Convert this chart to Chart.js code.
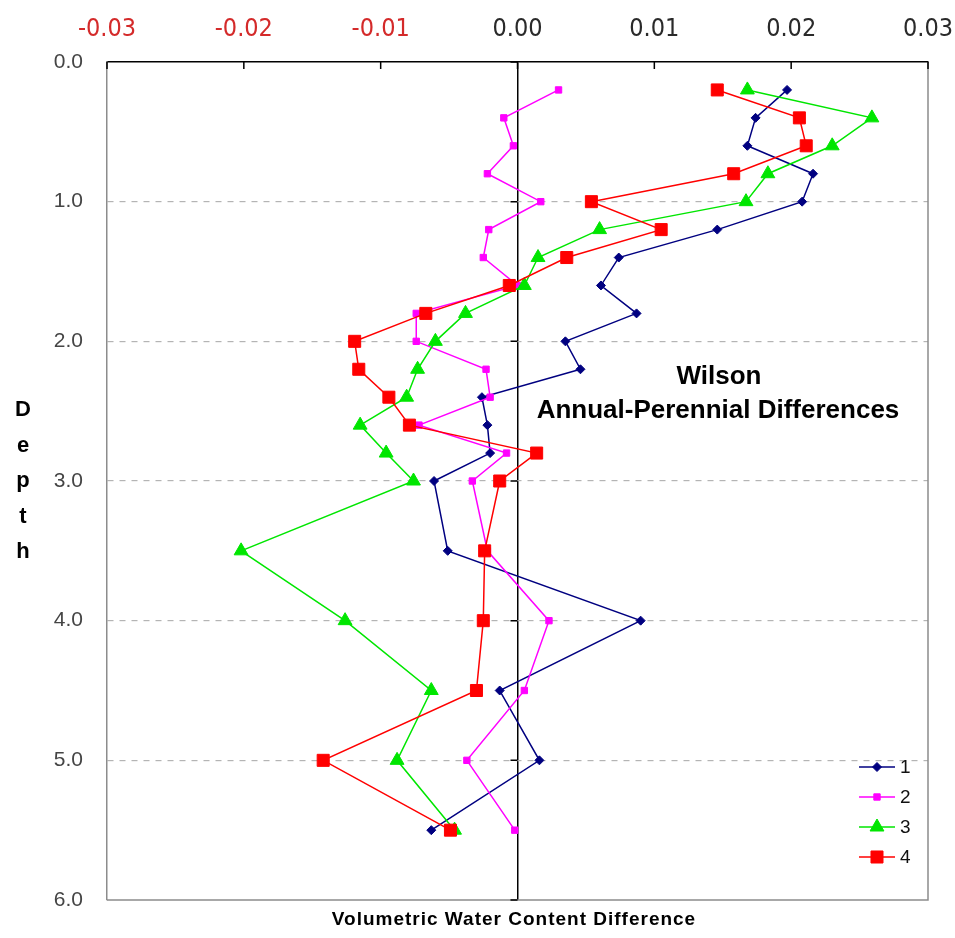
<!DOCTYPE html>
<html>
<head>
<meta charset="utf-8">
<script src="https://cdn.jsdelivr.net/npm/chart.js@4.4.0/dist/chart.umd.min.js"></script>
<style>
  html, body { margin: 0; padding: 0; background: #ffffff; }
  canvas { display: block; }
</style>
</head>
<body>
<canvas id="chart" width="955" height="938"></canvas>
<script>
// Depth of each measurement
const depths = [0.2, 0.4, 0.6, 0.8, 1.0, 1.2, 1.4, 1.6, 1.8, 2.0, 2.2, 2.4, 2.6, 2.8, 3.0, 3.5, 4.0, 4.5, 5.0, 5.5];

// Volumetric water content difference (annual - perennial) per site
const series1 = [0.0197, 0.0174, 0.0168, 0.0216, 0.0208, 0.0146, 0.0074, 0.0061, 0.0087, 0.0035, 0.0046, -0.0026, -0.0022, -0.0020, -0.0061, -0.0051, 0.0090, -0.0013, 0.0016, -0.0063];
const series2 = [0.0030, -0.0010, -0.0003, -0.0022, 0.0017, -0.0021, -0.0025, 0.0000, -0.0074, -0.0074, -0.0023, -0.0020, -0.0072, -0.0008, -0.0033, -0.0022, 0.0023, 0.0005, -0.0037, -0.0002];
const series3 = [0.0168, 0.0259, 0.0230, 0.0183, 0.0167, 0.0060, 0.0015, 0.0005, -0.0038, -0.0060, -0.0073, -0.0081, -0.0115, -0.0096, -0.0076, -0.0202, -0.0126, -0.0063, -0.0088, -0.0046];
const series4 = [0.0146, 0.0206, 0.0211, 0.0158, 0.0054, 0.0105, 0.0036, -0.0006, -0.0067, -0.0119, -0.0116, -0.0094, -0.0079, 0.0014, -0.0013, -0.0024, -0.0025, -0.0030, -0.0142, -0.0049];

const seriesNames = ['1', '2', '3', '4'];

// Axis tick labels
const xTickLabels = ['-0.03', '-0.02', '-0.01', '0.00', '0.01', '0.02', '0.03'];
const depthTickLabels = ['0.0', '1.0', '2.0', '3.0', '4.0', '5.0', '6.0'];

const xTitle = 'Volumetric Water Content Difference';
const yTitle = 'Depth';
const chartTitle = ['Wilson', 'Annual-Perennial Differences'];

const toPoints = vals => vals.map((v, i) => ({ x: v, y: depths[i] }));

const styles = [
  { color: '#000080', pointStyle: 'rectRot', radius: 4.5 },
  { color: '#ff00ff', pointStyle: 'rect', radius: 4.5 },
  { color: '#00e600', pointStyle: 'triangle', radius: 8 },
  { color: '#ff0000', pointStyle: 'rect', radius: 8.5 }
];
const values = [series1, series2, series3, series4];

const datasets = values.map((vals, i) => ({
  label: seriesNames[i],
  data: toPoints(vals),
  showLine: true,
  tension: 0,
  fill: false,
  borderColor: styles[i].color,
  backgroundColor: styles[i].color,
  borderWidth: 1.5,
  pointStyle: styles[i].pointStyle,
  pointRadius: styles[i].radius,
  pointHoverRadius: styles[i].radius,
  pointBorderWidth: 1,
  pointBorderColor: styles[i].color,
  pointBackgroundColor: styles[i].color,
  order: values.length - i
}));

const isZero = v => Math.abs(v) < 1e-9;

const decorations = {
  id: 'decorations',
  beforeDatasetsDraw(chart) {
    const { ctx, chartArea: a, scales: { x, y } } = chart;
    ctx.save();
    // right and bottom edges of the plot frame
    ctx.strokeStyle = '#8c8c8c';
    ctx.lineWidth = 1.5;
    ctx.beginPath();
    ctx.moveTo(a.right, a.top);
    ctx.lineTo(a.right, a.bottom);
    ctx.lineTo(a.left, a.bottom);
    ctx.stroke();
    // tick marks hanging below the top axis
    ctx.strokeStyle = '#000';
    ctx.lineWidth = 1.5;
    ctx.beginPath();
    x.ticks.forEach(t => {
      const px = x.getPixelForValue(t.value);
      ctx.moveTo(px, a.top);
      ctx.lineTo(px, a.top + 7);
    });
    // depth ticks on the zero line
    const x0 = x.getPixelForValue(0);
    y.ticks.forEach(t => {
      const py = y.getPixelForValue(t.value);
      ctx.moveTo(x0 - 7, py);
      ctx.lineTo(x0, py);
    });
    ctx.stroke();
    ctx.restore();
  },
  afterDraw(chart) {
    const { ctx } = chart;
    ctx.save();
    ctx.fillStyle = '#000';
    ctx.textAlign = 'center';
    ctx.textBaseline = 'middle';

    // vertical stacked axis title
    ctx.font = 'bold 22px "Liberation Sans", Arial, sans-serif';
    yTitle.split('').forEach((ch, i) => ctx.fillText(ch, 23, 410 + i * 35.5));

    // bottom axis title
    ctx.font = 'bold 19px "Liberation Sans", Arial, sans-serif';
    if ('letterSpacing' in ctx) ctx.letterSpacing = '1px';
    ctx.fillText(xTitle, 514, 920);
    if ('letterSpacing' in ctx) ctx.letterSpacing = '0px';

    // chart title inside the plot
    ctx.textBaseline = 'alphabetic';
    ctx.font = 'bold 26px "Liberation Sans", Arial, sans-serif';
    ctx.fillText(chartTitle[0], 719, 384);
    ctx.fillText(chartTitle[1], 718, 418);

    // legend: line sample with marker, then label
    chart.data.datasets.forEach((ds, i) => {
      const ly = 767 + i * 30;
      ctx.strokeStyle = ds.borderColor;
      ctx.lineWidth = 1.5;
      ctx.beginPath();
      ctx.moveTo(859, ly);
      ctx.lineTo(895, ly);
      ctx.stroke();
      ctx.fillStyle = ds.pointBackgroundColor;
      ctx.strokeStyle = ds.pointBorderColor;
      ctx.lineWidth = 1;
      Chart.helpers.drawPoint(ctx, {
        pointStyle: ds.pointStyle,
        radius: ds.pointRadius,
        rotation: 0,
        borderWidth: 1
      }, 877, ly);
      ctx.fillStyle = '#111';
      ctx.textAlign = 'left';
      ctx.textBaseline = 'middle';
      ctx.font = '19px "Liberation Sans", Arial, sans-serif';
      ctx.fillText(ds.label, 900, ly + 1);
    });
    ctx.restore();
  }
};

new Chart(document.getElementById('chart'), {
  type: 'scatter',
  data: { datasets },
  options: {
    responsive: false,
    animation: false,
    devicePixelRatio: 1,
    layout: { padding: { left: 0, top: 0, right: 27, bottom: 38 } },
    plugins: {
      legend: { display: false },
      tooltip: { enabled: false },
      title: { display: false }
    },
    scales: {
      x: {
        type: 'linear',
        position: 'top',
        min: -0.03,
        max: 0.03,
        afterFit: s => { s.height = 62; s.paddingLeft = 0; s.paddingRight = 0; },
        ticks: {
          stepSize: 0.01,
          padding: 18,
          maxRotation: 0,
          autoSkip: false,
          font: { family: '"Liberation Sans Narrow", "DejaVu Sans Condensed", Arial, sans-serif', size: 25 },
          color: c => (c.tick && c.tick.value < -1e-9) ? '#d42a2a' : '#2a2a2a',
          callback: v => xTickLabels[Math.round(v * 100) + 3]
        },
        grid: {
          drawTicks: false,
          color: c => (c.tick && isZero(c.tick.value)) ? '#000000' : 'rgba(0,0,0,0)',
          lineWidth: 1.5
        },
        border: { display: true, color: '#000000', width: 1.5 }
      },
      y: {
        type: 'linear',
        position: 'left',
        reverse: true,
        min: 0,
        max: 6,
        afterFit: s => { s.width = 107; s.paddingTop = 0; s.paddingBottom = 0; },
        ticks: {
          stepSize: 1,
          padding: 24,
          font: { family: '"Liberation Sans", Arial, sans-serif', size: 21 },
          color: '#454545',
          callback: v => depthTickLabels[Math.round(v)]
        },
        grid: {
          drawTicks: false,
          color: c => (c.tick && (isZero(c.tick.value) || Math.abs(c.tick.value - 6) < 1e-9)) ? 'rgba(0,0,0,0)' : '#b4b4b4',
          lineWidth: 1.2
        },
        border: { display: true, color: '#8c8c8c', width: 1.5, dash: [6, 6] }
      }
    }
  },
  plugins: [decorations]
});
</script>
</body>
</html>
